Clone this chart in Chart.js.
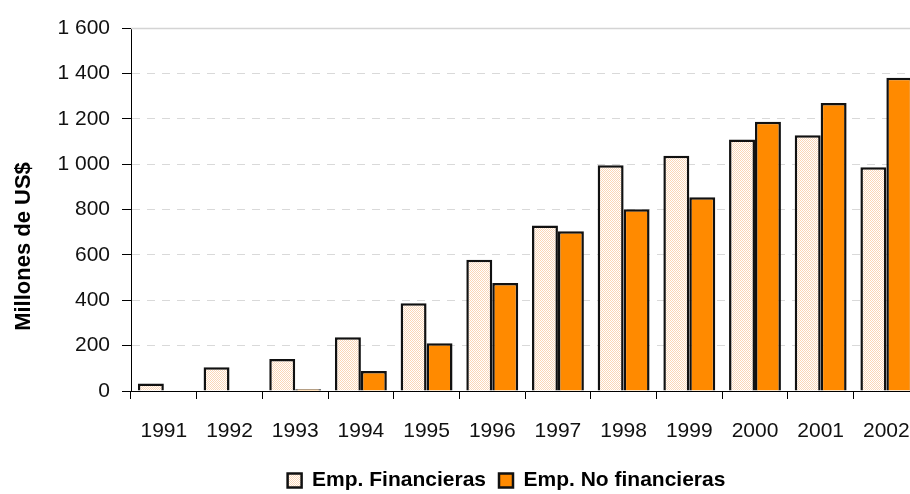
<!DOCTYPE html>
<html>
<head>
<meta charset="utf-8">
<script src="https://cdn.jsdelivr.net/npm/chart.js@4/dist/chart.umd.min.js"></script>
<style>
  html, body { margin: 0; padding: 0; background: #fff; overflow: hidden; }
  #wrap { width: 930px; height: 494px; }
</style>
</head>
<body>
<div id="wrap"><canvas id="c" width="930" height="494"></canvas></div>
<script>
// ---- data ----
const years = ['1991','1992','1993','1994','1995','1996','1997','1998','1999','2000','2001','2002'];
const financieras = [33, 105, 141, 237, 387, 579, 730, 995, 1037, 1108, 1127, 986];
const noFinancieras = [null, null, 8, 88, 210, 476, 704, 801, 854, 1187, 1269, 1381];
const seriesNames = ['Emp. Financieras', 'Emp. No financieras'];
const yTitle = 'Millones de US$';
const yTicks = { min: 0, max: 1600, step: 200 };

// ---- styles ----
const FONT = "'Liberation Sans Narrow', 'Arial Narrow', 'Liberation Sans', sans-serif";
const ORANGE = '#FF8A00';

function makePattern() {
  const p = document.createElement('canvas');
  p.width = 2; p.height = 2;
  const g = p.getContext('2d');
  g.fillStyle = '#FFFFFF';
  g.fillRect(0, 0, 2, 2);
  g.fillStyle = '#FBD6B6';
  g.fillRect(0, 0, 1, 1);
  g.fillRect(1, 1, 1, 1);
  return document.getElementById('c').getContext('2d').createPattern(p, 'repeat');
}
const peach = makePattern();

function fmt(v) {
  if (v >= 1000) return Math.floor(v / 1000) + ' ' + String(v % 1000).padStart(3, '0');
  return String(v);
}

const extras = {
  id: 'extras',
  afterLayout(chart) {
    const lg = chart.legend;
    if (lg) { lg.left += 45; lg.right += 45; lg.top += 12; lg.bottom += 12; }
  },
  beforeDatasetsDraw(chart) {
    const y = chart.scales.y, ctx = chart.ctx, a = chart.chartArea;
    const py = Math.round(y.getPixelForValue(y.max)) + 0.5;
    ctx.save();
    ctx.strokeStyle = '#d4d4d4';
    ctx.lineWidth = 1.5;
    ctx.beginPath();
    ctx.moveTo(a.left, py);
    ctx.lineTo(a.right, py);
    ctx.stroke();
    ctx.restore();
  },
  afterDraw(chart) {
    const ctx = chart.ctx, a = chart.chartArea;
    ctx.save();
    ctx.translate(24, (a.top + a.bottom) / 2 + 37);
    ctx.rotate(-Math.PI / 2);
    ctx.font = 'bold 22px ' + FONT;
    ctx.fillStyle = '#000';
    ctx.textAlign = 'center';
    ctx.textBaseline = 'middle';
    ctx.fillText(yTitle, 0, 0);
    ctx.restore();
  }
};

new Chart(document.getElementById('c'), {
  type: 'bar',
  data: {
    labels: years,
    datasets: [
      { label: seriesNames[0], data: financieras, backgroundColor: peach, borderColor: '#111', borderWidth: 2.5 },
      { label: seriesNames[1], data: noFinancieras, backgroundColor: ORANGE, borderColor: '#111', borderWidth: 2.5 }
    ]
  },
  options: {
    responsive: false,
    animation: false,
    devicePixelRatio: 1,
    layout: { padding: { top: 28, right: 7, bottom: 5, left: 0 } },
    datasets: { bar: { barPercentage: 1.0, categoryPercentage: 0.79 } },
    plugins: {
      tooltip: { enabled: false },
      legend: {
        position: 'bottom',
        labels: {
          boxWidth: 14, boxHeight: 14, padding: 13,
          color: '#000',
          font: { family: FONT, size: 21, weight: 'bold' }
        }
      }
    },
    scales: {
      x: {
        afterFit(s) { s.height = 54; },
        grid: { offset: true, drawOnChartArea: false, drawTicks: true, tickLength: 8, color: '#000', tickColor: '#000' },
        border: { color: '#000', width: 1 },
        ticks: { color: '#111', padding: 20, maxRotation: 0, autoSkip: false, font: { family: FONT, size: 21 } }
      },
      y: {
        min: yTicks.min, max: yTicks.max,
        afterFit(s) { s.width = 131; },
        grid: { color: '#d9d9d9', lineWidth: 1, tickLength: 9, tickColor: '#000', drawTicks: true },
        border: { color: '#000', width: 1, dash: [8, 7] },
        ticks: { stepSize: yTicks.step, color: '#111', padding: 12, callback: v => fmt(v), font: { family: FONT, size: 21 } }
      }
    }
  },
  plugins: [extras]
});
</script>
</body>
</html>
